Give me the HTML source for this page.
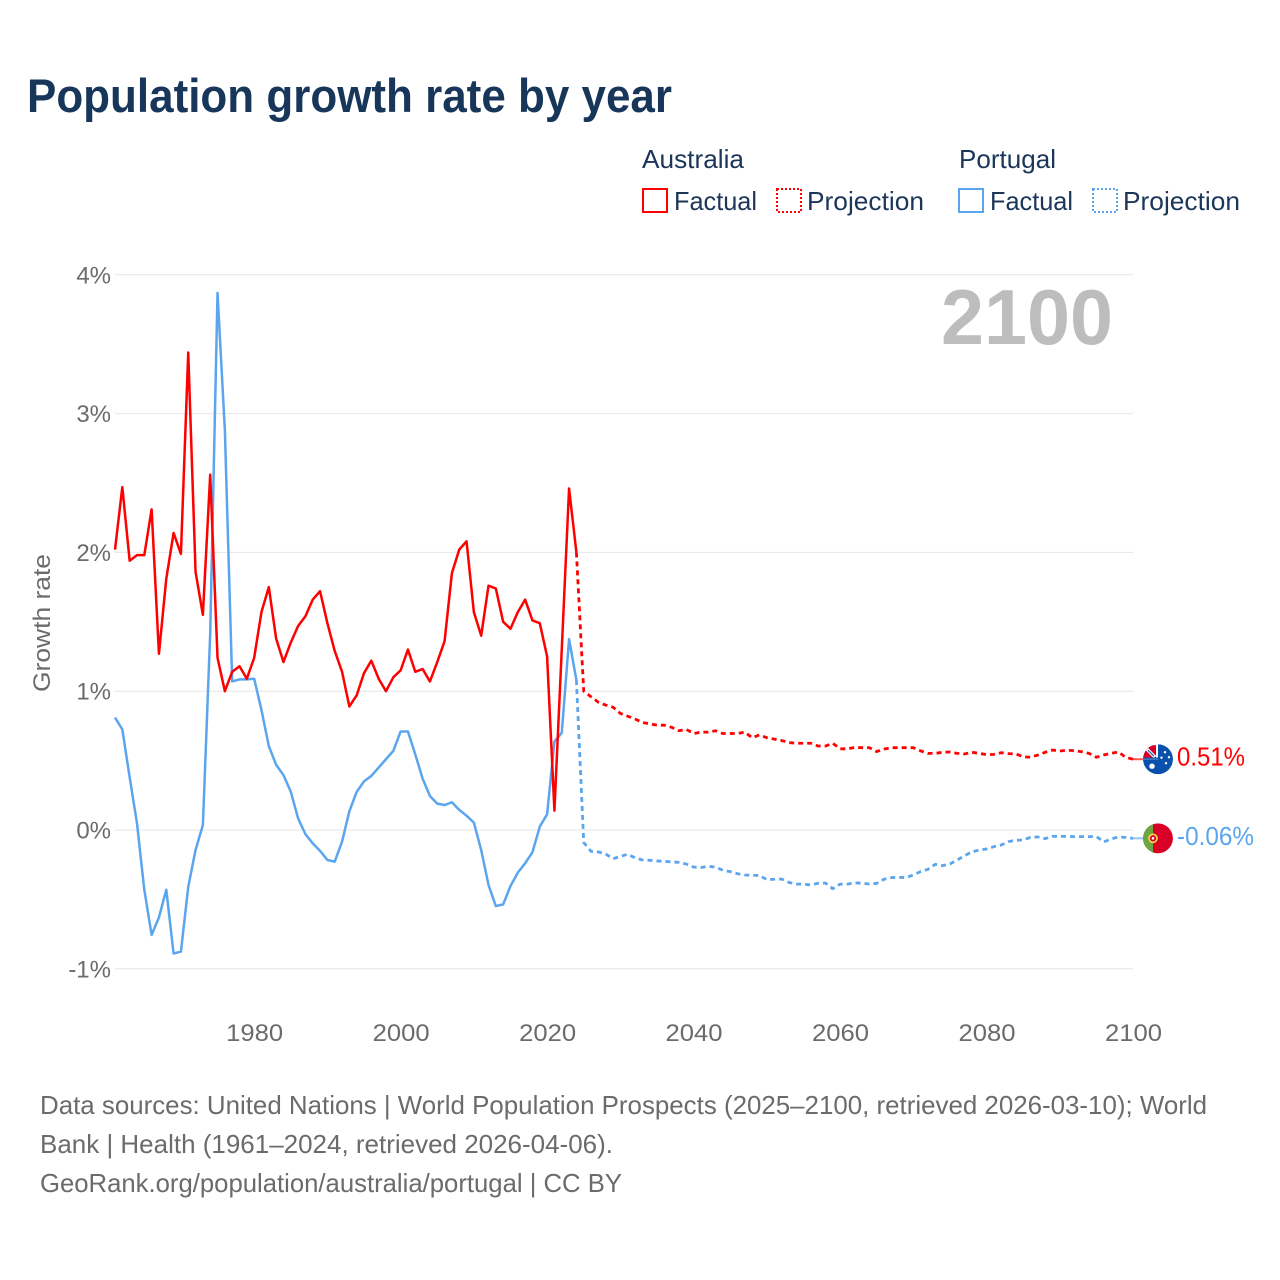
<!DOCTYPE html>
<html lang="en">
<head>
<meta charset="utf-8">
<title>Population growth rate by year</title>
<style>
html,body{margin:0;padding:0;background:#fff;width:1280px;height:1280px;overflow:hidden}
svg{display:block}
text{font-family:"Liberation Sans",sans-serif}
</style>
</head>
<body>
<svg id="chart" xmlns="http://www.w3.org/2000/svg" width="1280" height="1280" viewBox="0 0 1280 1280">
  <defs>
    <clipPath id="flag-clip"><circle cx="0" cy="0" r="15"/></clipPath>
  </defs>
  <rect x="0" y="0" width="1280" height="1280" fill="#ffffff"/>
  <text x="27" y="112" font-size="47" font-weight="700" fill="#18365a" textLength="645" lengthAdjust="spacingAndGlyphs">Population growth rate by year</text>

  <g font-size="26" fill="#1b3658">
    <text x="642" y="168" textLength="102" lengthAdjust="spacingAndGlyphs">Australia</text>
    <text x="959" y="168" textLength="97" lengthAdjust="spacingAndGlyphs">Portugal</text>
    <rect x="643" y="189" width="24" height="23" fill="none" stroke="#ff0000" stroke-width="2"/>
    <text x="674" y="210" textLength="83" lengthAdjust="spacingAndGlyphs">Factual</text>
    <rect x="777" y="189" width="24" height="23" fill="none" stroke="#ff0000" stroke-width="2" stroke-dasharray="2 2"/>
    <text x="807" y="210" textLength="117" lengthAdjust="spacingAndGlyphs">Projection</text>
    <rect x="959" y="189" width="24" height="23" fill="none" stroke="#5ba5ef" stroke-width="2"/>
    <text x="990" y="210" textLength="83" lengthAdjust="spacingAndGlyphs">Factual</text>
    <rect x="1093" y="189" width="24" height="23" fill="none" stroke="#5ba5ef" stroke-width="2" stroke-dasharray="2 2"/>
    <text x="1123" y="210" textLength="117" lengthAdjust="spacingAndGlyphs">Projection</text>
  </g>

  <g id="grid"></g>
  <g id="y-ticks"></g>
  <g id="x-ticks"></g>
  <text transform="translate(50,692) rotate(-90)" font-size="24" fill="#6b6b6b" textLength="138" lengthAdjust="spacingAndGlyphs">Growth rate</text>
  <text x="941" y="344" font-size="78" font-weight="700" fill="#bdbdbd" textLength="172" lengthAdjust="spacingAndGlyphs">2100</text>

  <g id="series"></g>

  <g id="flag-au">
    <g clip-path="url(#flag-clip)">
      <circle cx="0" cy="0" r="15" fill="#0a50ad"/>
      <rect x="-15" y="-15" width="15" height="15" fill="#ffffff"/>
      <rect x="-15" y="-14" width="13" height="13" fill="#d80027"/>
      <path d="M-11-10L-3-2" stroke="#ffffff" stroke-width="3.4" fill="none"/>
      <path d="M-10-9L-4-3" stroke="#2a5ea8" stroke-width="1.2" fill="none"/>
      <path d="M-15-1H0" stroke="#0a50ad" stroke-width="1.4"/>
      <circle cx="-6" cy="7" r="2.7" fill="#ffffff"/>
      <circle cx="7" cy="-7" r="1.2" fill="#ffffff"/>
      <circle cx="3.5" cy="-1.5" r="1.2" fill="#ffffff"/>
      <circle cx="11" cy="-2" r="1.2" fill="#ffffff"/>
      <circle cx="8" cy="4" r="1.2" fill="#ffffff"/>
    </g>
  </g>
  <g id="flag-pt">
    <g clip-path="url(#flag-clip)">
      <circle cx="0" cy="0" r="15" fill="#d80027"/>
      <rect x="-15" y="-15" width="10" height="30" fill="#6da544"/>
      <circle cx="-5" cy="0" r="4" fill="#d80027" stroke="#ffda44" stroke-width="1.6"/>
      <rect x="-6.2" y="-1.2" width="2.4" height="2.4" fill="#ffffff"/>
    </g>
  </g>
  <text id="label-au" x="1177" font-size="26" fill="#ff0000" textLength="68" lengthAdjust="spacingAndGlyphs"></text>
  <text id="label-pt" x="1177" font-size="26" fill="#5ba5ef" textLength="77" lengthAdjust="spacingAndGlyphs"></text>

  <g font-size="26" fill="#6b6b6b">
    <text x="40" y="1114" textLength="1167" lengthAdjust="spacingAndGlyphs">Data sources: United Nations | World Population Prospects (2025–2100, retrieved 2026-03-10); World</text>
    <text x="40" y="1153" textLength="573" lengthAdjust="spacingAndGlyphs">Bank | Health (1961–2024, retrieved 2026-04-06).</text>
    <text x="40" y="1192" textLength="582" lengthAdjust="spacingAndGlyphs">GeoRank.org/population/australia/portugal | CC BY</text>
  </g>
</svg>
<script>
var firstYear = 1961;
var lastYear = 2100;
var projectionStartYear = 2024;
var yTickValues = [-1, 0, 1, 2, 3, 4];
var yTickLabels = ["-1%", "0%", "1%", "2%", "3%", "4%"];
var xTickValues = [1980, 2000, 2020, 2040, 2060, 2080, 2100];
var xTickLabels = ["1980", "2000", "2020", "2040", "2060", "2080", "2100"];
var endLabelAustralia = "0.51%";
var endLabelPortugal = "-0.06%";

var australiaFactual = [2.02,2.47,1.94,1.98,1.98,2.31,1.27,1.81,2.14,1.99,3.44,1.86,1.55,2.56,1.24,1.00,1.14,1.18,1.09,1.24,1.57,1.75,1.38,1.21,1.35,1.47,1.54,1.66,1.72,1.49,1.29,1.14,0.89,0.97,1.13,1.22,1.09,1.00,1.10,1.15,1.30,1.14,1.16,1.07,1.21,1.36,1.85,2.02,2.08,1.57,1.40,1.76,1.74,1.50,1.45,1.57,1.66,1.51,1.49,1.25,0.14,1.30,2.46,2.0];

var portugalFactual = [0.81,0.725,0.38,0.05,-0.43,-0.756,-0.63,-0.43,-0.89,-0.876,-0.41,-0.144,0.036,1.42,3.87,2.88,1.07,1.085,1.085,1.09,0.865,0.605,0.47,0.396,0.276,0.084,-0.03,-0.096,-0.15,-0.216,-0.228,-0.084,0.135,0.275,0.35,0.39,0.45,0.51,0.57,0.71,0.71,0.545,0.37,0.245,0.19,0.18,0.2,0.145,0.103,0.053,-0.144,-0.396,-0.548,-0.536,-0.404,-0.307,-0.24,-0.16,0.024,0.113,0.637,0.70,1.375,1.08];

var australiaProjection = [2.0,1.0,0.96,0.92,0.9,0.885,0.84,0.82,0.80,0.775,0.765,0.755,0.755,0.74,0.715,0.725,0.695,0.705,0.705,0.715,0.695,0.695,0.695,0.705,0.665,0.685,0.665,0.655,0.645,0.63,0.625,0.625,0.625,0.605,0.605,0.625,0.585,0.585,0.595,0.593,0.593,0.565,0.583,0.593,0.593,0.593,0.593,0.57,0.552,0.552,0.56,0.562,0.552,0.548,0.56,0.552,0.543,0.545,0.557,0.55,0.548,0.528,0.524,0.54,0.56,0.576,0.569,0.574,0.572,0.564,0.552,0.524,0.54,0.552,0.562,0.524,0.51];

var portugalProjection = [1.08,-0.09,-0.154,-0.158,-0.173,-0.207,-0.19,-0.175,-0.2,-0.216,-0.218,-0.223,-0.226,-0.23,-0.233,-0.245,-0.267,-0.27,-0.262,-0.267,-0.29,-0.3,-0.315,-0.324,-0.327,-0.327,-0.358,-0.355,-0.353,-0.377,-0.39,-0.39,-0.396,-0.384,-0.382,-0.423,-0.39,-0.39,-0.38,-0.384,-0.389,-0.384,-0.355,-0.343,-0.341,-0.343,-0.324,-0.3,-0.283,-0.247,-0.257,-0.245,-0.216,-0.185,-0.158,-0.144,-0.137,-0.12,-0.108,-0.084,-0.074,-0.072,-0.053,-0.05,-0.062,-0.046,-0.046,-0.046,-0.048,-0.048,-0.048,-0.046,-0.086,-0.065,-0.05,-0.053,-0.06];

var SVGNS = "http://www.w3.org/2000/svg";
var RED = "#ff0000";
var BLUE = "#5ba5ef";

function xScale(year) {
  return 115 + (year - firstYear) * (1133 - 115) / (lastYear - firstYear);
}
function yScale(value) {
  return 830 - value * 138.8;
}
function make(tag, attrs) {
  var el = document.createElementNS(SVGNS, tag);
  for (var k in attrs) { el.setAttribute(k, attrs[k]); }
  return el;
}
function seriesPoints(values, startYear) {
  return values.map(function (v, i) {
    return xScale(startYear + i).toFixed(2) + "," + yScale(v).toFixed(2);
  }).join(" ");
}

var gridGroup = document.getElementById("grid");
var yTickGroup = document.getElementById("y-ticks");
yTickValues.forEach(function (v, i) {
  var line = make("line", { x1: 115, x2: 1133, y1: yScale(v), y2: yScale(v), stroke: "#e6e6e6", "stroke-width": 1 });
  
  
  gridGroup.appendChild(line);
  var label = make("text", { x: 111, y: yScale(v) + 8.5, "text-anchor": "end", "font-size": 24, fill: "#6b6b6b" });
  
  
  label.textContent = yTickLabels[i];
  yTickGroup.appendChild(label);
});

var xTickGroup = document.getElementById("x-ticks");
xTickValues.forEach(function (yr, i) {
  var label = make("text", { x: xScale(yr) + 0.5, y: 1041, "text-anchor": "middle", "font-size": 24, fill: "#6b6b6b", textLength: 57, lengthAdjust: "spacingAndGlyphs" });
  
  
  label.textContent = xTickLabels[i];
  xTickGroup.appendChild(label);
});

var seriesGroup = document.getElementById("series");
var lineDefs = [
  { name: "portugal-factual-line", values: portugalFactual, start: firstYear, color: BLUE, dash: null },
  { name: "portugal-projection-line", values: portugalProjection, start: projectionStartYear, color: BLUE, dash: "5 4" },
  { name: "australia-factual-line", values: australiaFactual, start: firstYear, color: RED, dash: null },
  { name: "australia-projection-line", values: australiaProjection, start: projectionStartYear, color: RED, dash: "5 4" }
];
lineDefs.forEach(function (d) {
  var poly = make("polyline", { points: seriesPoints(d.values, d.start), fill: "none", stroke: d.color, "stroke-width": d.dash ? 2.8 : 2.5, "stroke-linejoin": "round" });
  if (d.dash) { poly.setAttribute("stroke-dasharray", d.dash); }
  
  
  seriesGroup.appendChild(poly);
});

function placeEnd(values, color, flagId, labelId, text, leaderName) {
  var v = values[values.length - 1];
  var yPos = yScale(v);
  var leader = make("line", { x1: 1133, x2: 1143, y1: yPos, y2: yPos, stroke: color, "stroke-width": 2, "stroke-opacity": 0.65 });
  
  
  seriesGroup.appendChild(leader);
  document.getElementById(flagId).setAttribute("transform", "translate(1158," + yPos.toFixed(2) + ")");
  var label = document.getElementById(labelId);
  label.setAttribute("y", (yPos + 6.5).toFixed(2));
  label.textContent = text;
}
placeEnd(australiaProjection, RED, "flag-au", "label-au", endLabelAustralia, "australia-leader-line");
placeEnd(portugalProjection, BLUE, "flag-pt", "label-pt", endLabelPortugal, "portugal-leader-line");
</script>
</body>
</html>
